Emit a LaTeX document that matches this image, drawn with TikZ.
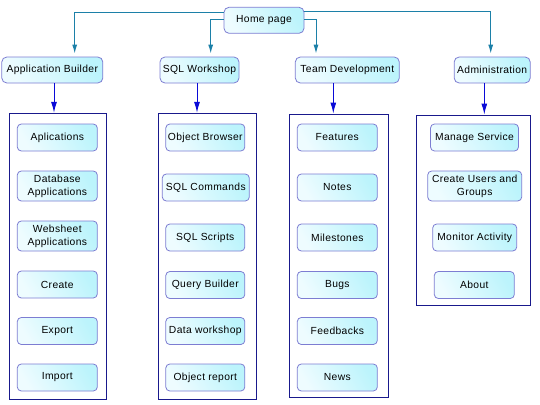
\documentclass[tikz,border=0pt]{standalone}
\usepackage{fontspec}
\newfontfamily\boxfont[LetterSpace=3.5]{Liberation Sans}
\usetikzlibrary{arrows.meta}

\definecolor{homeline}{RGB}{28,128,168}
\definecolor{subline}{RGB}{10,10,215}
\definecolor{grpline}{RGB}{25,25,140}
\definecolor{boxline}{RGB}{125,125,210}
\definecolor{boxlight}{RGB}{238,252,255}
\definecolor{boxdark}{RGB}{188,244,252}

\begin{document}
\begin{tikzpicture}[x=1pt, y=-1pt,
  box/.style={draw=boxline, line width=0.8pt, rounded corners=4pt,
    left color=boxlight, right color=boxdark, shading angle=120,
    minimum width=80pt, minimum height=27pt, inner sep=1pt, align=center,
    font=\boxfont\fontsize{10.3}{13}\selectfont},
  topbox/.style={box, minimum height=26pt, rounded corners=5pt},
  grpbox/.style={draw=grpline, line width=1pt, inner sep=0pt},
  homearrow/.style={draw=homeline, line width=1pt,
    -{Latex[length=9pt,width=5pt]}, shorten >=3pt},
  subarrow/.style={draw=subline, line width=1pt,
    -{Latex[length=11pt,width=6pt]}}]

\useasboundingbox[fill=white] (0,0) rectangle (540,404);

% top level
\node[topbox] (home) at (264,20.3) {Home page};
\node[topbox, minimum width=101pt] (appb) at (52.3,70) {Application Builder};
\node[topbox, minimum width=79pt] (sqlw) at (199.5,70) {SQL Workshop};
\node[topbox, minimum width=104pt] (teamd) at (347.3,70) {Team Development};
\node[topbox, minimum width=76pt] (admin) at (492.2,70) {Administration};

% group frames
\node[grpbox, minimum width=97.4pt, minimum height=286.2pt] (grpA) at (58,256.4) {};
\node[grpbox, minimum width=97.7pt, minimum height=286.2pt] (grpB) at (207.2,256.4) {};
\node[grpbox, minimum width=99pt, minimum height=283pt] (grpC) at (338.8,255.5) {};
\node[grpbox, minimum width=114pt, minimum height=190pt] (grpD) at (473.7,210) {};

% Application Builder
\node[box] (aplic) at (57.3,137.5) {Aplications};
\node[box, minimum height=30pt] (dbapp) at (57.3,186) {Database\\Applications};
\node[box, minimum height=30pt] (wsapp) at (57.3,236) {Websheet\\Applications};
\node[box] (create) at (57.3,284.5) {Create};
\node[box] (export) at (57.3,331) {Export};
\node[box] (import) at (57.3,377.5) {Import};

% SQL Workshop
\node[box, minimum width=79pt] (objbr) at (205.3,137.5) {Object Browser};
\node[box, minimum width=87pt] (sqlcmd) at (205.8,187.5) {SQL Commands};
\node[box, minimum width=79pt] (sqlscr) at (205.3,237.5) {SQL Scripts};
\node[box, minimum width=79pt] (qbuild) at (205.3,285) {Query Builder};
\node[box, minimum width=79pt] (dataws) at (205.3,331) {Data workshop};
\node[box, minimum width=79pt] (objrep) at (205.3,377.5) {Object report};

% Team Development
\node[box] (feat) at (337.3,137.5) {Features};
\node[box] (notes) at (337.3,187.5) {Notes};
\node[box] (miles) at (337.3,237.5) {Milestones};
\node[box] (bugs) at (337.3,285) {Bugs};
\node[box] (feedb) at (337.3,331) {Feedbacks};
\node[box] (news) at (337.3,377.5) {News};

% Administration
\node[box, minimum width=88pt] (mansrv) at (474.5,137.5) {Manage Service};
\node[box, minimum width=94pt, minimum height=30pt] (cusers) at (474.7,186) {Create Users and\\Groups};
\node[box, minimum width=84pt] (monact) at (474.7,237.5) {Monitor Activity};
\node[box] (about) at (474.3,285) {About};

% connectors from the home page
\draw[homearrow] ([yshift=7.6pt]home.west) -| ([xshift=22.4pt]appb.north);
\draw[homearrow] ([yshift=1pt]home.west) -| ([xshift=11.2pt]sqlw.north);
\draw[homearrow] ([yshift=1pt]home.east) -| ([xshift=-31.3pt]teamd.north);
\draw[homearrow] ([yshift=8.6pt]home.east) -| ([xshift=-1.5pt]admin.north);

% connectors to the groups
\draw[subarrow] ([xshift=1.7pt]appb.south) -- ([xshift=1.7pt]appb.south |- grpA.north);
\draw[subarrow] ([xshift=-2.5pt]sqlw.south) -- ([xshift=-2.5pt]sqlw.south |- grpB.north);
\draw[subarrow] ([xshift=-14pt]teamd.south) -- ([xshift=-14pt]teamd.south |- grpC.north);
\draw[subarrow] ([xshift=-7.9pt]admin.south) -- ([xshift=-7.9pt]admin.south |- grpD.north);

\end{tikzpicture}
\end{document}
